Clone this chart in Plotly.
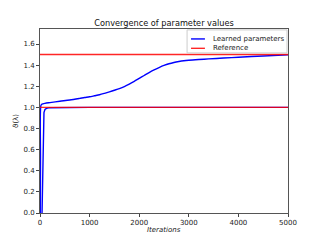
import plotly.graph_objects as go

iters1 = [0, 10, 20, 40, 100, 200, 400, 600, 800, 900, 1000, 1100, 1200, 1300, 1400, 1500, 1600,
          1700, 1800, 1900, 2000, 2100, 2200, 2300, 2400, 2500, 2600, 2700, 2800, 2900, 3000,
          3200, 3400, 3700, 4000, 4500, 5000]
vals1 = [-1.0, 0.5, 1.02, 1.03, 1.038, 1.045, 1.058, 1.07, 1.085, 1.093, 1.10, 1.11, 1.12, 1.133,
         1.147, 1.162, 1.178, 1.197, 1.22, 1.246, 1.274, 1.302, 1.33, 1.355, 1.377, 1.397, 1.413,
         1.425, 1.434, 1.441, 1.446, 1.453, 1.459, 1.467, 1.475, 1.487, 1.497]

iters2 = [0, 30, 50, 60, 70, 80, 100, 130, 200, 500, 1000, 2000, 3000, 4000, 5000]
vals2 = [-1.0, -0.3, 0.3, 0.7, 0.9, 0.95, 0.98, 0.99, 0.997, 1.0, 1.0, 1.0, 1.0, 1.0, 1.0]

ref_x = [0, 5000]
ref_high = [1.5, 1.5]
ref_low = [1.0, 1.0]

y_ticks = [0.0, 0.2, 0.4, 0.6, 0.8, 1.0, 1.2, 1.4, 1.6]
x_ticks = [0, 1000, 2000, 3000, 4000, 5000]

BLUE = "#0000ff"
RED = "rgba(255,0,0,0.85)"
FONT = "DejaVu Sans"

fig = go.Figure()
fig.add_trace(go.Scatter(x=iters1, y=vals1, mode="lines",
                         line=dict(color=BLUE, width=1.4, shape="spline", smoothing=0.8)))
fig.add_trace(go.Scatter(x=iters2, y=vals2, mode="lines", line=dict(color=BLUE, width=1.4)))
fig.add_trace(go.Scatter(x=ref_x, y=ref_high, mode="lines", line=dict(color=RED, width=1.4)))
fig.add_trace(go.Scatter(x=ref_x, y=ref_low, mode="lines", line=dict(color=RED, width=1.4)))

axis_common = dict(showgrid=False, zeroline=False, showline=True, linecolor="#555", linewidth=1,
                   mirror=True, ticks="outside", ticklen=3, tickwidth=0.8, tickcolor="#444",
                   automargin=False,
                   tickfont=dict(size=7, color="#222", family=FONT))

# the page adds an 8px body margin, so the figure is offset by 8px; margins compensate
fig.update_layout(
    width=320, height=240,
    margin=dict(l=32, r=40, t=21, b=35),
    paper_bgcolor="white", plot_bgcolor="white",
    showlegend=False,
    title=dict(text="Convergence of parameter values", x=0.5, xanchor="center", xref="paper",
               y=1 - 15 / 240, yanchor="middle",
               font=dict(size=8.2, color="#111", family=FONT)),
    xaxis=dict(range=[0, 5000], tickvals=x_ticks, ticktext=[str(v) for v in x_ticks], **axis_common),
    yaxis=dict(range=[0, 1.742], tickvals=y_ticks, ticktext=[f"{v:.1f}" for v in y_ticks], **axis_common),
)

fig.add_annotation(text="<i>Iterations</i>", xref="paper", yref="paper", x=0.5, y=-0.092,
                   xanchor="center", yanchor="middle", showarrow=False,
                   font=dict(size=7, family=FONT, color="#222"))
fig.add_annotation(text="ϑ(λ)", xref="paper", yref="paper", x=-0.097, y=0.5, textangle=-90,
                   xanchor="center", yanchor="middle", showarrow=False,
                   font=dict(size=7, family=FONT, color="#222"))

# legend drawn manually (matplotlib-like compact box)
fig.add_shape(type="rect", xref="paper", yref="paper", x0=0.593, x1=0.996, y0=0.870, y1=0.995,
              line=dict(color="#cccccc", width=1), fillcolor="rgba(255,255,255,0.8)", layer="above")
legend_items = [("Learned parameters", BLUE, 0.946), ("Reference", RED, 0.895)]
for label, color, ly in legend_items:
    fig.add_shape(type="line", xref="paper", yref="paper", x0=0.609, x1=0.665, y0=ly, y1=ly,
                  line=dict(color=color, width=1.4), layer="above")
    fig.add_annotation(text=label, xref="paper", yref="paper", x=0.69, y=ly, xanchor="left",
                       yanchor="middle", showarrow=False, font=dict(size=7, family=FONT, color="#222"))

fig.write_html("out.html")
